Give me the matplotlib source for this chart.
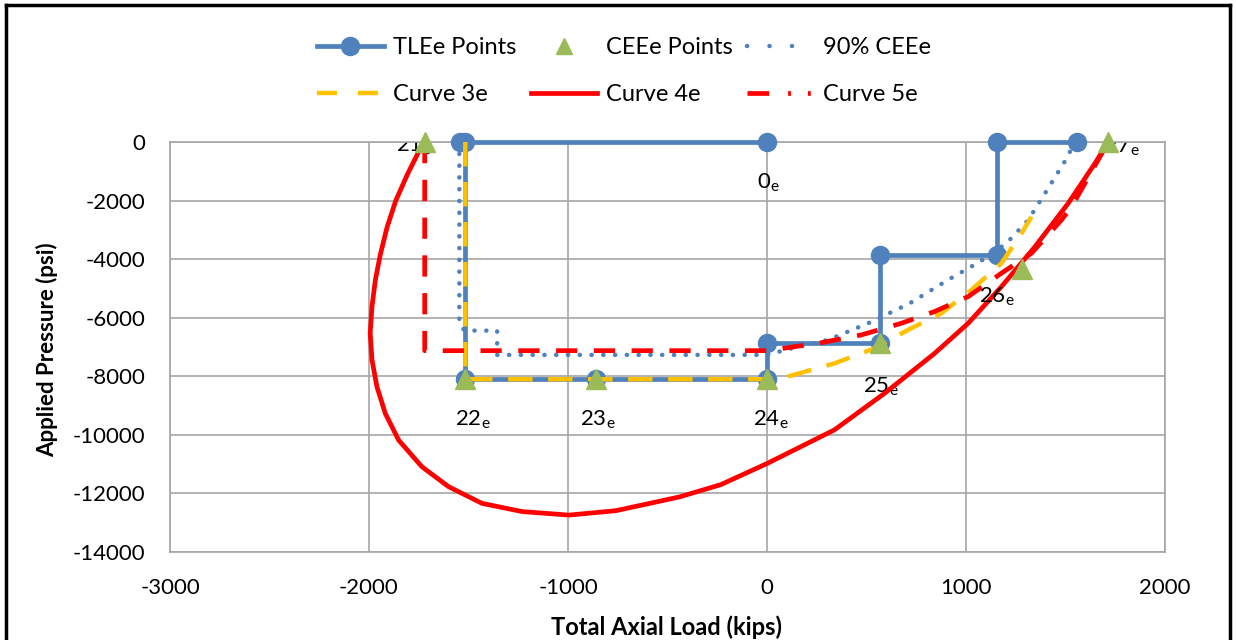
import matplotlib
matplotlib.use("Agg")
import matplotlib.pyplot as plt
from matplotlib.lines import Line2D

plt.rcParams['font.family'] = ['Lato', 'DejaVu Sans']
plt.rcParams['mathtext.fontset'] = 'custom'
plt.rcParams['mathtext.rm'] = 'Lato'
plt.rcParams['mathtext.it'] = 'Lato'
plt.rcParams['axes.unicode_minus'] = False

# --- data -------------------------------------------------------------
tle_x = [0, -1545, -1516, -1516, -861, 0, 0, 570, 570, 1158, 1158, 1556]
tle_y = [0, 0, 0, -8100, -8100, -8100, -6880, -6880, -3850, -3850, 0, 0]

cee_x = [-1720, -1516, -861, 0, 570, 1282, 1715]
cee_y = [0, -8100, -8100, -8100, -6880, -4350, 0]
cee_labels = ['21', '22', '23', '24', '25', '26', '27']

cee90_x = [-1546, -1546, -1520, -1356, -1356, 0, 150, 306, 515, 717, 909, 1069,
           1203, 1313, 1413, 1506, 1546]
cee90_y = [0, -6200, -6440, -6440, -7270, -7270, -7000, -6760, -6170, -5510, -4710,
           -4090, -3460, -2660, -1580, -560, 0]

curve3_x = [-1516, -1516, 0, 104, 339, 540, 708, 876, 1027, 1178, 1279, 1329]
curve3_y = [0, -8100, -8100, -8010, -7560, -7045, -6420, -5850, -5050, -4140, -3120, -2550]

curve4_x = [1715, 1648, 1514, 1346, 1178, 1011, 842, 591, 339, 3, -232, -440, -760,
            -995, -1230, -1432, -1600, -1734, -1851, -1918, -1960, -1985, -1994,
            -1985, -1968, -1943, -1910, -1866, -1806, -1750, -1720]
curve4_y = [0, -730, -2090, -3580, -4940, -6190, -7220, -8580, -9830, -10970, -11700,
            -12120, -12590, -12740, -12620, -12340, -11770, -11090, -10180, -9270,
            -8360, -7440, -6530, -5620, -4710, -3840, -2930, -2010, -1090, -330, 0]

curve5_x = [-1720, -1720, 0, 255, 473, 675, 842, 1011, 1178, 1329, 1480, 1531, 1715]
curve5_y = [0, -7125, -7125, -6875, -6590, -6190, -5790, -5280, -4480, -3800, -2660,
            -2210, 0]

x_ticks = [-3000, -2000, -1000, 0, 1000, 2000]
y_ticks = [0, -2000, -4000, -6000, -8000, -10000, -12000, -14000]

# --- styling ----------------------------------------------------------
BLUE = '#4F81BD'
GREEN = '#9BBB59'
YELLOW = '#FFC000'
RED = '#FF0000'
GRID = '#A6A6A6'

fig = plt.figure(figsize=(12.36, 6.4), dpi=100)
ax = fig.add_axes([170 / 1236, 1 - 552 / 640, 995 / 1236, 410 / 640])

ax.set_xlim(-3000, 2000)
ax.set_ylim(-14000, 0)
ax.set_xticks(x_ticks)
ax.set_yticks(y_ticks)
ax.grid(True, color=GRID, lw=1.2, zorder=0)
ax.set_axisbelow(True)
for s in ax.spines.values():
    s.set_color(GRID)
    s.set_linewidth(1.2)
ax.tick_params(length=0, labelsize=16)
ax.tick_params(axis='y', pad=17.5)
ax.tick_params(axis='x', pad=19)

ax.plot(tle_x, tle_y, color=BLUE, lw=3.4, marker='o', ms=13,
        solid_joinstyle='miter', zorder=3, clip_on=False)
ax.plot(cee90_x, cee90_y, color=BLUE, lw=3.2, linestyle=(0, (0.05, 2.6)),
        dash_capstyle='round', zorder=4, clip_on=False)
ax.plot(curve3_x, curve3_y, color=YELLOW, lw=3.2, linestyle=(0, (5.5, 3.5)),
        zorder=5, clip_on=False)
ax.plot(curve4_x, curve4_y, color=RED, lw=3.4, zorder=6, clip_on=False,
        solid_joinstyle='round')
ax.plot(curve5_x, curve5_y, color=RED, lw=3.4, linestyle=(0, (4.5, 3.5)),
        zorder=7, clip_on=False)
ax.plot(cee_x, cee_y, linestyle='none', marker='^', ms=14, color=GREEN,
        zorder=8, clip_on=False)

# point labels (26e sits above the curves, the rest underneath)
label_offsets = [(-55, -120), (36, -1390), (10, -1390), (20, -1390),
                 (4, -1470), (-129, -930), (70, -150)]
label_z = [2, 2, 2, 2, 2, 9, 2]
for lab, x, y, (dx, dy), z in zip(cee_labels, cee_x, cee_y, label_offsets, label_z):
    ax.text(x + dx, y + dy, lab + r'$_\mathregular{e}$', fontsize=16,
            ha='center', va='center', zorder=z, clip_on=True)
ax.text(5, -1400, r'0$_\mathregular{e}$', fontsize=16, ha='center',
        va='center', zorder=2)

fig.text(667 / 1236, 1 - 627 / 640, 'Total Axial Load (kips)', fontsize=17,
         fontweight='bold', ha='center', va='center')
fig.text(47 / 1236, 1 - 350 / 640, 'Applied Pressure (psi)', rotation=90,
         fontsize=16, fontweight='bold', ha='center', va='center')

# legend
handles = [
    Line2D([], [], color=BLUE, lw=3.4, marker='o', ms=13),
    Line2D([], [], color=YELLOW, lw=3.2, linestyle=(0, (4.5, 4.7))),
    Line2D([], [], linestyle='none', marker='^', ms=12, color=GREEN),
    Line2D([], [], color=RED, lw=3.4),
    Line2D([], [], color=BLUE, lw=3.2, linestyle=(0, (0.05, 5.0)),
           dash_capstyle='round'),
    Line2D([], [], color=RED, lw=3.4, linestyle=(0, (4.6, 4.0, 0.6, 3.6, 0.6, 4.0))),
]
labels = ['TLEe Points', 'Curve 3e', 'CEEe Points', 'Curve 4e', '90% CEEe', 'Curve 5e']
fig.legend(handles, labels, ncol=3, loc='center', bbox_to_anchor=(624 / 1236, 1 - 71 / 640),
           frameon=False, fontsize=17, handlelength=2.8, handletextpad=0.4,
           columnspacing=0.6, labelspacing=1.1, borderpad=0, borderaxespad=0)

# outer frame
frame_kw = dict(color='black', lw=2.5, transform=fig.transFigure, clip_on=False)
fig.add_artist(Line2D([6 / 1236, 6 / 1236], [0, 1 - 5 / 640], **frame_kw))
fig.add_artist(Line2D([6 / 1236, 1230 / 1236], [1 - 5 / 640, 1 - 5 / 640], **frame_kw))
fig.add_artist(Line2D([1230 / 1236, 1230 / 1236], [0, 1 - 5 / 640], **frame_kw))

fig.savefig('out.png', dpi=100)
